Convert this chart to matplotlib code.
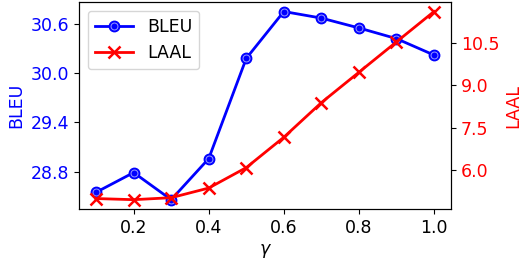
import matplotlib
matplotlib.use("Agg")
import matplotlib.pyplot as plt
from matplotlib.ticker import MultipleLocator
from matplotlib.legend_handler import HandlerTuple

gamma = [0.1, 0.2, 0.3, 0.4, 0.5, 0.6, 0.7, 0.8, 0.9, 1.0]
bleu = [28.55, 28.79, 28.46, 28.96, 30.18, 30.75, 30.67, 30.55, 30.42, 30.22]
laal = [5.01, 4.97, 5.04, 5.38, 6.10, 7.17, 8.39, 9.46, 10.53, 11.60]
xticks = [0.2, 0.4, 0.6, 0.8, 1.0]

plt.rcParams['font.size'] = 12.5
fig = plt.figure(figsize=(5.28, 2.64), dpi=100)
ax = fig.add_axes([0.15, 0.208, 0.704, 0.784])
ax2 = ax.twinx()

l1, = ax.plot(gamma, bleu, color='blue', lw=2, marker='o', ms=7.5, mfc='blue', mec='blue', zorder=3)
r1, = ax.plot(gamma, bleu, ls='none', marker='o', ms=5, mfc='none', mec='#9999ff', mew=0.7, zorder=4)
l2, = ax2.plot(gamma, laal, color='red', lw=2, marker='x', ms=9, mew=1.8)

ax.yaxis.set_major_locator(MultipleLocator(0.6))
ax2.yaxis.set_major_locator(MultipleLocator(1.5))
ax.set_xticks(xticks)
ax.tick_params(axis='y', labelcolor='blue', color='black')
ax2.tick_params(axis='y', labelcolor='red', color='black')
ax.set_ylabel('BLEU', color='blue')
ax2.set_ylabel('LAAL', color='red')
ax.set_xlabel(r'$\gamma$')

ax.legend([(l1, r1), l2], ['BLEU', 'LAAL'], loc='upper left',
          handler_map={tuple: HandlerTuple(ndivide=1)}, handlelength=2.2)

fig.savefig('out.png', dpi=100)
